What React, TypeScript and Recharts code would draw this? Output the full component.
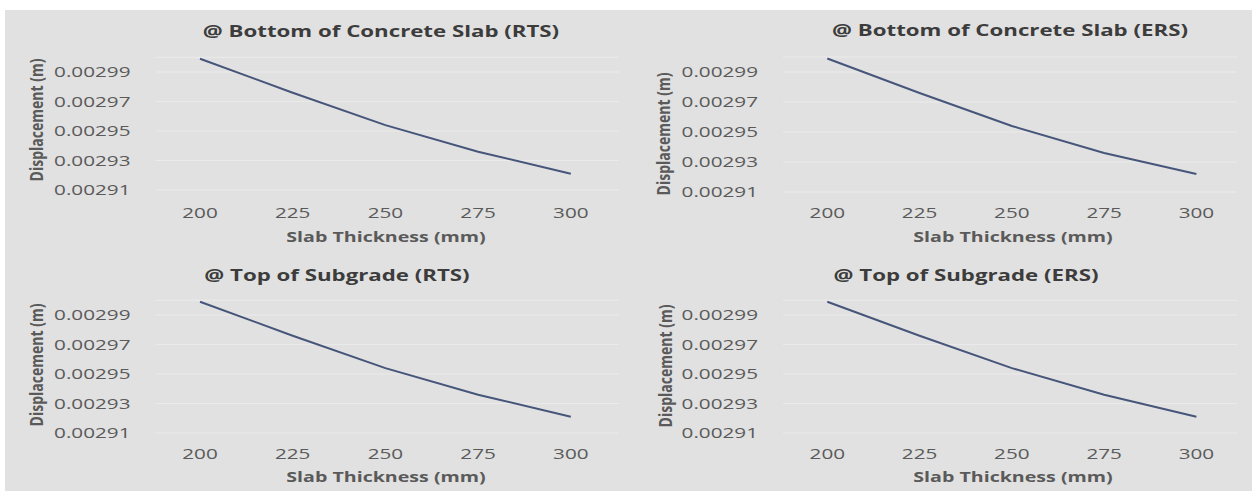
import React from "react";
import { LineChart, Line, XAxis, YAxis, CartesianGrid } from "recharts";

const thicknessMm = [200, 225, 250, 275, 300];
const bottomSlabRTS = [0.002999, 0.002976, 0.002954, 0.002936, 0.002921];
const bottomSlabERS = [0.002999, 0.002976, 0.002954, 0.002936, 0.002922];
const topSubgradeRTS = [0.002999, 0.002976, 0.002954, 0.002936, 0.002921];
const topSubgradeERS = [0.002999, 0.002976, 0.002954, 0.002936, 0.002921];
const xTicks = [200, 225, 250, 275, 300];
const yTicks = [0.00291, 0.00293, 0.00295, 0.00297, 0.00299];
const yDomain: [number, number] = [0.00291, 0.003];

const titles = [
  "@ Bottom of Concrete Slab (RTS)",
  "@ Bottom of Concrete Slab (ERS)",
  "@ Top of Subgrade (RTS)",
  "@ Top of Subgrade (ERS)",
];
const xAxisTitle = "Slab Thickness (mm)";
const yAxisTitle = "Displacement (m)";

const FONT = "'Open Sans', Lato, sans-serif";
const TICK_COLOR = "#5a5a5a";
const TITLE_COLOR = "#3c3c3c";
const SX_TICK = 1.38;
const SX_TITLE = 1.39;
const SX_LABEL = 1.4;

function XTick(props: any) {
  const { x, y, payload } = props;
  return (
    <g transform={`translate(${x},${y})`}>
      <text
        transform={`scale(${SX_TICK},1)`}
        textAnchor="middle"
        dy="0.71em"
        fill={TICK_COLOR}
        fontSize={15}
        fontFamily={FONT}
      >
        {String(payload.value)}
      </text>
    </g>
  );
}

function YTick(props: any) {
  const { x, y, payload } = props;
  return (
    <g transform={`translate(${x},${y})`}>
      <text
        transform={`scale(${SX_TICK},1)`}
        textAnchor="end"
        dy="0.355em"
        fill={TICK_COLOR}
        fontSize={15}
        fontFamily={FONT}
      >
        {Number(payload.value).toFixed(5)}
      </text>
    </g>
  );
}

type PanelProps = {
  left: number;
  top: number;
  width: number;
  height: number;
  series: number[];
  title: string;
  titleX: number;
  titleY: number;
  plotLeft: number;
  plotRight: number;
  plotTop: number;
  plotBottom: number;
  xDomain: [number, number];
  yTickMargin: number;
  xTickMargin: number;
  xLabelX: number;
  xLabelY: number;
  yLabelX: number;
  yLabelY: number;
};

function Panel(p: PanelProps) {
  const data = thicknessMm.map((t, i) => ({ t, v: p.series[i] }));
  const abs = (x: number, y: number, sx: number): React.CSSProperties => ({
    position: "absolute",
    left: x,
    top: y,
    transform: `translate(-50%, -50%) scaleX(${sx})`,
    whiteSpace: "nowrap",
    fontFamily: FONT,
    lineHeight: 1,
  });
  return (
    <>
      <div style={{ position: "absolute", left: p.left, top: p.top }}>
        <LineChart
          width={p.width}
          height={p.height}
          data={data}
          margin={{
            top: p.plotTop - p.top,
            right: p.left + p.width - p.plotRight,
            bottom: 0,
            left: 0,
          }}
        >
          <CartesianGrid vertical={false} stroke="#ebebeb" strokeWidth={1} />
          <XAxis
            type="number"
            dataKey="t"
            domain={p.xDomain}
            ticks={xTicks}
            allowDataOverflow
            axisLine={false}
            tickLine={false}
            tickSize={0}
            tickMargin={p.xTickMargin}
            height={p.top + p.height - p.plotBottom}
            tick={<XTick />}
          />
          <YAxis
            type="number"
            domain={yDomain}
            ticks={yTicks}
            allowDataOverflow
            axisLine={false}
            tickLine={false}
            tickSize={0}
            tickMargin={p.yTickMargin}
            width={p.plotLeft - p.left}
            tick={<YTick />}
          />
          <Line
            type="linear"
            dataKey="v"
            stroke="#46557a"
            strokeWidth={2}
            dot={false}
            isAnimationActive={false}
          />
        </LineChart>
      </div>
      <div style={{ ...abs(p.titleX, p.titleY, SX_TITLE), fontSize: 16, fontWeight: 700, color: TITLE_COLOR }}>
        {p.title}
      </div>
      <div style={{ ...abs(p.xLabelX, p.xLabelY, SX_LABEL), fontSize: 14, fontWeight: 700, color: TICK_COLOR }}>
        {xAxisTitle}
      </div>
      <div
        style={{
          ...abs(p.yLabelX, p.yLabelY, 1),
          transform: `translate(-50%, -50%) scaleX(1.3) rotate(-90deg)`,
          fontSize: 14,
          fontWeight: 700,
          color: TICK_COLOR,
        }}
      >
        {yAxisTitle}
      </div>
    </>
  );
}

export default function App() {
  return (
    <div style={{ position: "absolute", left: 0, top: 0, width: 1257, height: 491, background: "#ffffff", overflow: "hidden" }}>
      <div style={{ position: "absolute", left: 5, top: 10, width: 1247, height: 481, background: "#e1e1e1" }} />
      <Panel
        left={0} top={0} width={640} height={245}
        series={bottomSlabRTS} title={titles[0]}
        titleX={381} titleY={31}
        plotLeft={155.5} plotRight={619} plotTop={57.3} plotBottom={190}
        xDomain={[188, 313]}
        yTickMargin={25} xTickMargin={17}
        xLabelX={386} xLabelY={237}
        yLabelX={36} yLabelY={120}
      />
      <Panel
        left={640} top={0} width={617} height={245}
        series={bottomSlabERS} title={titles[1]}
        titleX={1010} titleY={30}
        plotLeft={783} plotRight={1237} plotTop={57} plotBottom={192}
        xDomain={[188, 311]}
        yTickMargin={25} xTickMargin={15}
        xLabelX={1013} xLabelY={237}
        yLabelX={663} yLabelY={134}
      />
      <Panel
        left={0} top={245} width={640} height={246}
        series={topSubgradeRTS} title={titles[2]}
        titleX={337} titleY={275}
        plotLeft={155.5} plotRight={619} plotTop={300.3} plotBottom={433}
        xDomain={[188, 313]}
        yTickMargin={25} xTickMargin={15}
        xLabelX={386} xLabelY={477}
        yLabelX={36} yLabelY={365}
      />
      <Panel
        left={640} top={245} width={617} height={246}
        series={topSubgradeERS} title={titles[3]}
        titleX={966} titleY={275}
        plotLeft={783} plotRight={1237} plotTop={300.3} plotBottom={433}
        xDomain={[188, 311]}
        yTickMargin={25} xTickMargin={15}
        xLabelX={1013} xLabelY={477}
        yLabelX={665} yLabelY={366}
      />
    </div>
  );
}
